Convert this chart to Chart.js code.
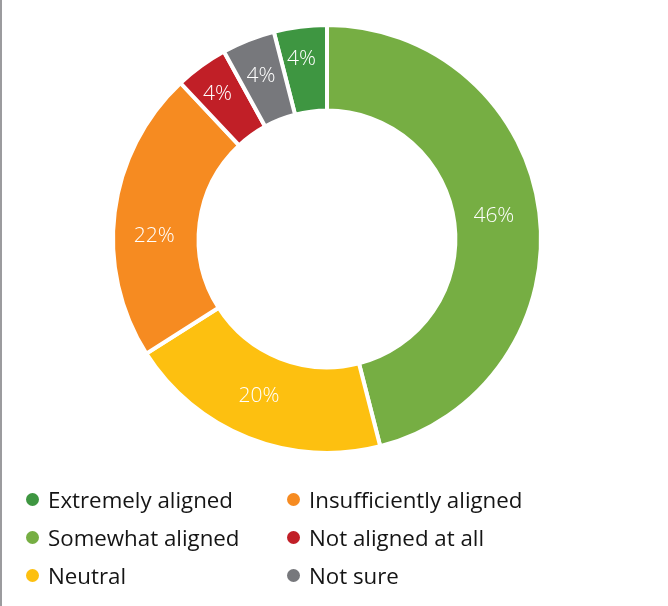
<!DOCTYPE html>
<html>
<head>
<meta charset="utf-8">
<script src="https://cdn.jsdelivr.net/npm/chart.js@4.4.1/dist/chart.umd.min.js"></script>
<style>
  html, body { margin: 0; padding: 0; background: #fff; }
  #wrap { position: relative; width: 668px; height: 606px; overflow: hidden; }
  #edge { position: absolute; left: 0; top: 0; width: 2px; height: 606px; background: #9b9b9e; }
  #chart { position: absolute; left: 0; top: 0; }
  #legend {
    position: absolute; left: 26px; top: 480px;
    display: grid; grid-template-rows: repeat(3, 38px); grid-auto-flow: column;
    grid-template-columns: 261px 260px;
    font-family: "Open Sans", Roboto, sans-serif; font-size: 22.3px; color: #151515;
  }
  #legend .item { display: flex; align-items: center; height: 38px; }
  #legend .dot { width: 13px; height: 13px; border-radius: 50%; margin-right: 9px; flex: none; }
</style>
</head>
<body>
<div id="wrap">
  <div id="edge"></div>
  <canvas id="chart" width="668" height="606"></canvas>
  <div id="legend"></div>
</div>
<script>
// Survey answers, in legend order
const categories = [
  'Extremely aligned',
  'Somewhat aligned',
  'Neutral',
  'Insufficiently aligned',
  'Not aligned at all',
  'Not sure'
];
const shares = [4, 46, 20, 22, 4, 4];
const colors = ['#3e9641', '#76ae43', '#fdc010', '#f68b21', '#c11f27', '#77787c'];

// Start the first slice so that it ends exactly at 12 o'clock
const startAngle = -shares[0] / 100 * 360;

// White percentage labels near the middle of each slice
const sliceLabels = {
  id: 'sliceLabels',
  afterDatasetsDraw(chart, args, opts) {
    const ctx = chart.ctx;
    const meta = chart.getDatasetMeta(0);
    const values = chart.data.datasets[0].data;
    const nudge = opts.nudge || [];
    ctx.save();
    ctx.fillStyle = '#ffffff';
    ctx.font = '300 21px "Open Sans", Roboto, sans-serif';
    ctx.textAlign = 'center';
    ctx.textBaseline = 'middle';
    meta.data.forEach((arc, i) => {
      const p = arc.tooltipPosition();
      const [dx, dy] = nudge[i] || [0, 0];
      ctx.fillText(values[i] + '%', p.x + dx, p.y + dy);
    });
    ctx.restore();
  }
};

const chart = new Chart(document.getElementById('chart'), {
  type: 'doughnut',
  data: {
    labels: categories,
    datasets: [{
      data: shares,
      backgroundColor: colors,
      borderColor: '#ffffff',
      borderWidth: 4,
      hoverOffset: 0
    }]
  },
  options: {
    responsive: false,
    animation: false,
    cutout: '60%',
    rotation: startAngle,
    layout: { padding: { left: 111, right: 125, top: 23, bottom: 151 } },
    plugins: {
      legend: { display: false },
      tooltip: { enabled: false },
      sliceLabels: {
        nudge: [[-4, -10], [-3, -2], [-5, -2], [-3, 18], [-9, -6], [-3, -4]]
      }
    }
  },
  plugins: [sliceLabels]
});

// Two-column legend built from the chart's own legend items
const legendEl = document.getElementById('legend');
chart.options.plugins.legend.labels.generateLabels(chart).forEach(item => {
  const row = document.createElement('div');
  row.className = 'item';
  const dot = document.createElement('span');
  dot.className = 'dot';
  dot.style.background = item.fillStyle;
  const txt = document.createElement('span');
  txt.textContent = item.text;
  row.appendChild(dot);
  row.appendChild(txt);
  legendEl.appendChild(row);
});
</script>
</body>
</html>
